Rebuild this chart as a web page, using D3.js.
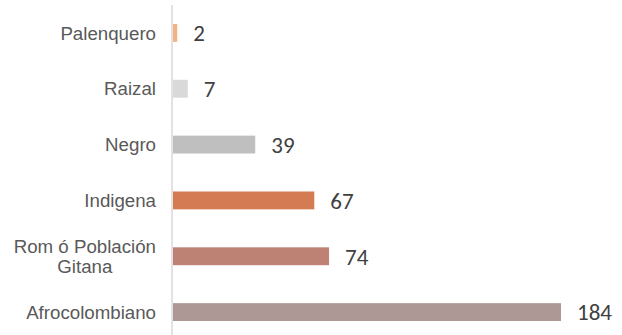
<!DOCTYPE html>
<html>
<head>
<meta charset="utf-8">
<script src="https://cdn.jsdelivr.net/npm/d3@7"></script>
<style>
  html, body { margin: 0; padding: 0; background: #ffffff; }
  svg { display: block; }
</style>
</head>
<body>
<svg id="chart" width="622" height="335"></svg>
<script>
// Population groups, top to bottom
const categories = ["Palenquero", "Raizal", "Negro", "Indigena", "Rom ó Población Gitana", "Afrocolombiano"];
// Category label lines (wrapped where the name is long)
const labelLines = [["Palenquero"], ["Raizal"], ["Negro"], ["Indigena"], ["Rom ó Población", "Gitana"], ["Afrocolombiano"]];
// Counts per group
const values = [2, 7, 39, 67, 74, 184];
// Bar fill per group
const colors = ["#F4B183", "#D9D9D9", "#BFBFBF", "#D57B53", "#BE8275", "#AE9896"];

const W = 622, H = 335;
const svg = d3.select("#chart");

const x = d3.scaleLinear()
  .domain([0, d3.max(values)])
  .range([173, 561]);

const y = d3.scaleBand()
  .domain(categories)
  .range([5, 340])
  .paddingInner(0.68)
  .paddingOuter(0.34);

// Category axis line
svg.append("line")
  .attr("x1", 172).attr("x2", 172)
  .attr("y1", 5).attr("y2", H)
  .attr("stroke", "#D9D9D9")
  .attr("stroke-width", 1.5);

// Bars
svg.selectAll("rect.bar")
  .data(categories)
  .join("rect")
  .attr("class", "bar")
  .attr("x", x(0))
  .attr("y", d => y(d))
  .attr("width", (d, i) => x(values[i]) - x(0))
  .attr("height", y.bandwidth())
  .attr("fill", (d, i) => colors[i]);

// Value labels
svg.selectAll("text.value")
  .data(categories)
  .join("text")
  .attr("class", "value")
  .attr("x", (d, i) => x(values[i]) + 16)
  .attr("y", d => y(d) + y.bandwidth() / 2)
  .attr("dy", "0.36em")
  .attr("font-family", "Carlito, Calibri, Roboto, sans-serif")
  .attr("font-size", "23px")
  .attr("fill", "#404040")
  .text((d, i) => values[i]);

// Category labels, right-aligned block; wrapped lines centred on each other
const labelFont = "'Liberation Sans', Arial, sans-serif";
const labelSize = "18.7px";
const labelRight = 156;
const lineH = 20.5;
const g = svg.append("g");
categories.forEach((c, i) => {
  const lines = labelLines[i];
  const cy = y(c) + y.bandwidth() / 2;
  const t = g.append("text")
    .attr("font-family", labelFont)
    .attr("font-size", labelSize)
    .attr("fill", "#595959");
  if (lines.length === 1) {
    t.attr("x", labelRight).attr("y", cy).attr("dy", "0.36em")
      .attr("text-anchor", "end").text(lines[0]);
  } else {
    // measure widest line, centre all lines under it
    const probe = g.append("text").attr("font-family", labelFont)
      .attr("font-size", labelSize).text(lines[0]);
    const wMax = d3.max(lines, l => { probe.text(l); return probe.node().getComputedTextLength(); });
    probe.remove();
    const cx = labelRight - wMax / 2;
    t.attr("text-anchor", "middle");
    const top = cy - (lines.length - 1) * lineH / 2;
    lines.forEach((l, k) => {
      t.append("tspan").attr("x", cx).attr("y", top + k * lineH)
        .attr("dy", "0.36em").text(l);
    });
  }
});
</script>
</body>
</html>
